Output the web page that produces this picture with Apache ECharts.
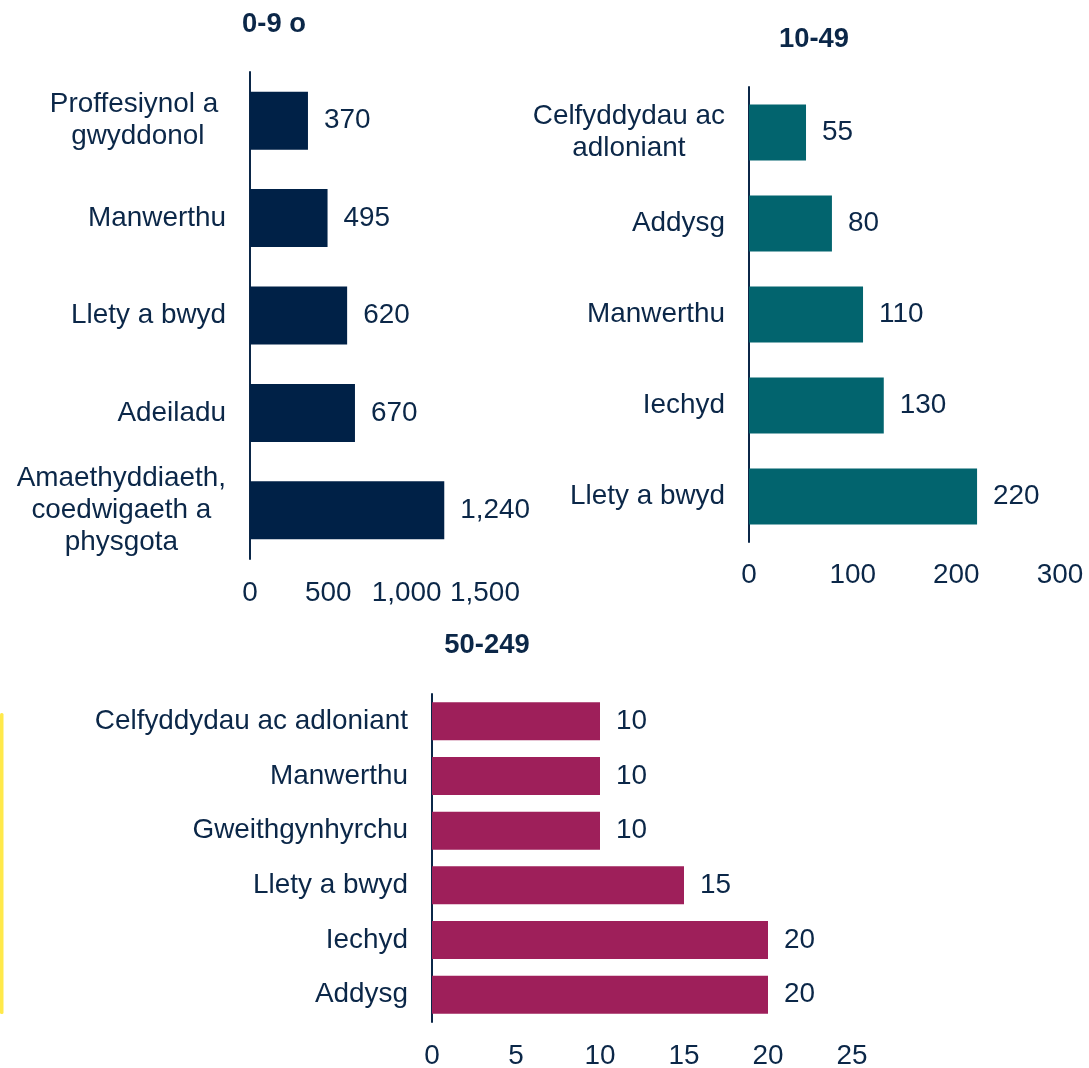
<!DOCTYPE html>
<html><head><meta charset="utf-8">
<script src="https://cdn.jsdelivr.net/npm/echarts@6/dist/echarts.min.js"></script>
<style>html,body{margin:0;padding:0;background:#fff}#c{width:1089px;height:1068px}</style>
</head><body><div id="c"></div>
<script>
// ---- data ----
const titles = ['0-9 o', '10-49', '50-249'];
const cats1 = ['Proffesiynol a \ngwyddonol', 'Manwerthu', 'Llety a bwyd', 'Adeiladu', 'Amaethyddiaeth,\ncoedwigaeth a\nphysgota'];
const vals1 = [370, 495, 620, 670, 1240];
const ticks1 = [0, 500, 1000, 1500];
const cats2 = ['Celfyddydau ac\nadloniant', 'Addysg', 'Manwerthu', 'Iechyd', 'Llety a bwyd'];
const vals2 = [55, 80, 110, 130, 220];
const ticks2 = [0, 100, 200, 300];
const cats3 = ['Celfyddydau ac adloniant', 'Manwerthu', 'Gweithgynhyrchu', 'Llety a bwyd', 'Iechyd', 'Addysg'];
const vals3 = [10, 10, 10, 15, 20, 20];
const ticks3 = [0, 5, 10, 15, 20, 25];

// ---- style ----
const FONT = '"Liberation Sans", Arial, sans-serif';
const FS = 27.9;
const TFS = 27.4;
const NAVY = '#0b2748';
const COLORS = ['#002147', '#02646e', '#9e1f5a'];
const ctx = document.createElement('canvas').getContext('2d');
ctx.font = FS + 'px ' + FONT;
const fmt = v => Number(v).toLocaleString('en-US');

function catLabel(cats) {
  const rich = {};
  cats.forEach((c, i) => {
    const lines = c.split('\n');
    if (lines.length > 1) {
      const w = Math.max(...lines.map(l => ctx.measureText(l).width));
      rich['m' + i] = { width: w, align: 'center', fontSize: FS, fontFamily: FONT, color: NAVY, lineHeight: 32 };
    }
  });
  return {
    margin: 24, fontSize: FS, fontFamily: FONT, color: NAVY, lineHeight: 32,
    rich: rich,
    formatter: (v, i) => {
      const lines = v.split('\n');
      if (lines.length === 1) return v;
      return lines.map(l => '{m' + i + '|' + l + '}').join('\n');
    }
  };
}

const grids = [
  { left: 250, top: 72, width: 235, height: 487 },
  { left: 749, top: 87, width: 311, height: 455 },
  { left: 432, top: 694, width: 420, height: 328 }
];
const allCats = [cats1, cats2, cats3];
const allVals = [vals1, vals2, vals3];
const allTicks = [ticks1, ticks2, ticks3];
const barW = [58, 56, 38];
const xMargins = [20.5, 19.5, 20];

const option = {
  animation: false,
  backgroundColor: '#fff',
  grid: grids.map(g => Object.assign({ containLabel: false, outerBoundsMode: 'none' }, g)),
  xAxis: allTicks.map((t, i) => ({
    type: 'value', gridIndex: i, min: t[0], max: t[t.length - 1], interval: t[1] - t[0],
    axisLine: { show: false }, axisTick: { show: false }, splitLine: { show: false },
    axisLabel: { margin: xMargins[i], fontSize: FS, fontFamily: FONT, color: NAVY, formatter: v => fmt(v), showMaxLabel: true, showMinLabel: true }
  })),
  yAxis: allCats.map((c, i) => ({
    type: 'category', gridIndex: i, data: c, inverse: true,
    axisLine: { show: true, lineStyle: { color: NAVY, width: 2 } },
    axisTick: { show: false }, splitLine: { show: false },
    axisLabel: catLabel(c)
  })),
  series: allVals.map((v, i) => ({
    type: 'bar', xAxisIndex: i, yAxisIndex: i, data: v, barWidth: barW[i],
    itemStyle: { color: COLORS[i] },
    label: { show: true, position: 'right', distance: 16, padding: [3, 0, 0, 0], fontSize: FS, fontFamily: FONT, color: NAVY, formatter: p => fmt(p.value) }
  })),
  graphic: [
    { type: 'text', x: 274, y: 24, style: { text: titles[0], align: 'center', verticalAlign: 'middle', font: 'bold ' + TFS + 'px ' + FONT, fill: NAVY } },
    { type: 'text', x: 814, y: 39, style: { text: titles[1], align: 'center', verticalAlign: 'middle', font: 'bold ' + TFS + 'px ' + FONT, fill: NAVY } },
    { type: 'text', x: 487, y: 645, style: { text: titles[2], align: 'center', verticalAlign: 'middle', font: 'bold ' + TFS + 'px ' + FONT, fill: NAVY } },
    { type: 'rect', shape: { x: 0, y: 713, width: 3.5, height: 301, r: 1.5 }, style: { fill: '#ffe94a' } }
  ]
};
const chart = echarts.init(document.getElementById('c'), null, { renderer: 'canvas' });
chart.setOption(option);
</script></body></html>
